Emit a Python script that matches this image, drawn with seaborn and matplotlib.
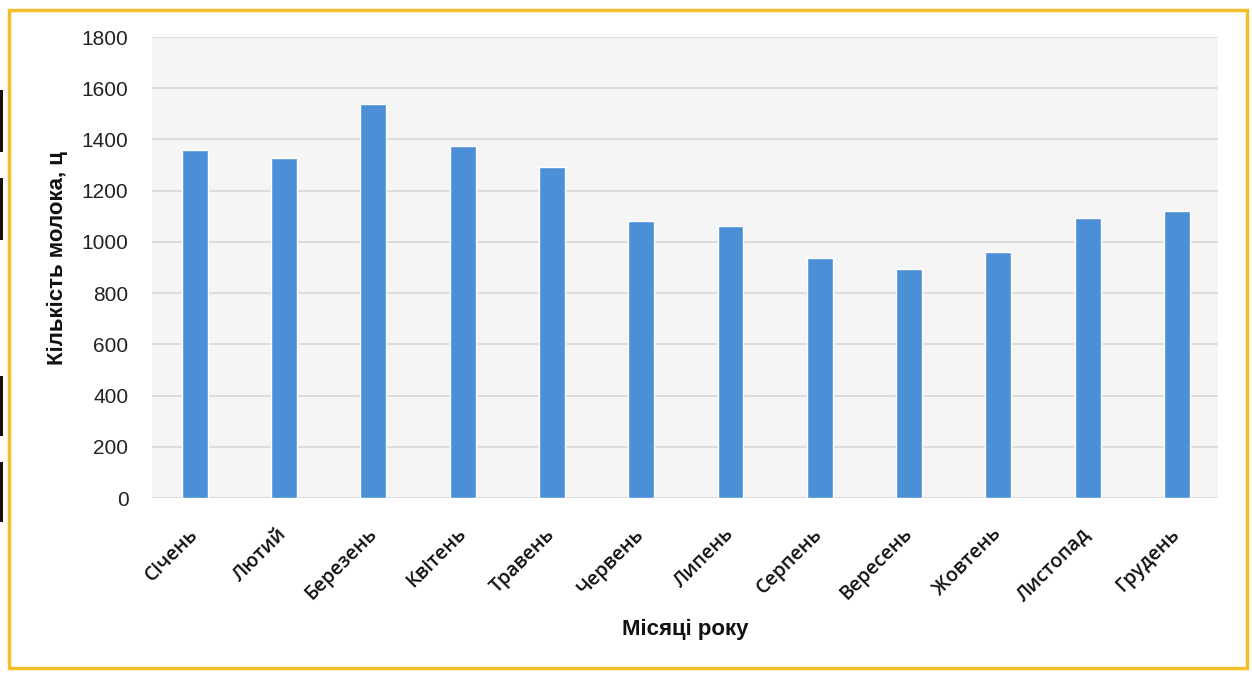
import matplotlib
matplotlib.use("Agg")
import matplotlib.pyplot as plt
from matplotlib.patches import Rectangle
import seaborn as sns
import pandas as pd

# Monthly milk yield, centners
months = ["Січень", "Лютий", "Березень", "Квітень", "Травень", "Червень",
          "Липень", "Серпень", "Вересень", "Жовтень", "Листопад", "Грудень"]
milk = [1358, 1328, 1538, 1375, 1291, 1080, 1063, 939, 894, 960, 1094, 1121]
y_ticks = [0, 200, 400, 600, 800, 1000, 1200, 1400, 1600, 1800]

x_title = "Місяці року"
y_title = "Кількість молока, ц"

sns.set_theme(style="white")
plt.rcParams["font.family"] = ["Liberation Sans", "DejaVu Sans"]

df = pd.DataFrame({"month": months, "milk": milk})

fig = plt.figure(figsize=(12.52, 6.73), dpi=100)
fig.patch.set_facecolor("white")
ax = fig.add_axes([0.1214, 0.260, 0.8514, 0.685])
ax.set_facecolor("#F5F5F5")

sns.barplot(data=df, x="month", y="milk", color="#4B8FD6", saturation=1,
            width=0.29, ax=ax, zorder=3)

ax.set_ylim(0, 1800)
ax.set_yticks(y_ticks)
ax.set_xlim(-0.48, 11.46)
ax.yaxis.grid(True, color="#DCDCDC", linewidth=1.4, zorder=0)
ax.xaxis.grid(False)
for s in ax.spines.values():
    s.set_visible(False)

ax.tick_params(axis="y", length=0, pad=17, labelsize=15, labelcolor="#222222")
ax.tick_params(axis="x", length=0, pad=24)
for lbl in ax.get_xticklabels():
    lbl.set_rotation(45)
    lbl.set_ha("right")
    lbl.set_va("center")
    lbl.set_rotation_mode("anchor")
    lbl.set_family(["Open Sans", "DejaVu Sans"])
    lbl.set_fontsize(14)
    lbl.set_fontweight("semibold")
    lbl.set_color("#111111")

ax.set_xlabel(x_title, fontsize=16, fontweight="bold", color="#111111")
ax.set_ylabel(y_title, fontsize=16, fontweight="bold", color="#111111")
ax.xaxis.set_label_coords(0.5, -0.262)
ax.yaxis.set_label_coords(-0.079, 0.52)

# Golden frame around the chart
fig.patches.append(Rectangle((0.0072, 0.0074), 0.9888, 0.9776,
                             transform=fig.transFigure, fill=False,
                             edgecolor="#F2BF2A", linewidth=2.5))
# Dark edge marks on the left margin
for y0, y1 in [(90, 152), (178, 240), (376, 436), (462, 522)]:
    fig.patches.append(Rectangle((0.0, 1 - y1 / 673), 3 / 1252, (y1 - y0) / 673,
                                 transform=fig.transFigure, facecolor="#1a1010",
                                 edgecolor="none"))

fig.savefig("out.png", dpi=100)
